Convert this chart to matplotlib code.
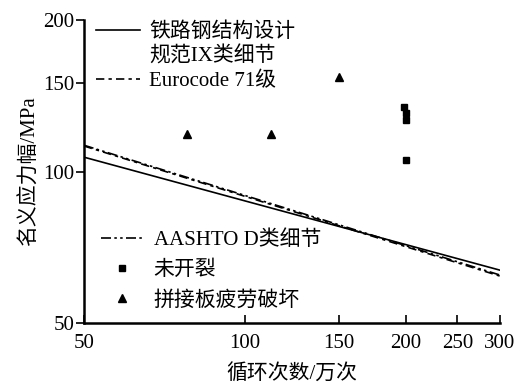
import matplotlib
matplotlib.use("Agg")
import matplotlib.pyplot as plt
from matplotlib.lines import Line2D
from matplotlib.ticker import FixedLocator, FixedFormatter, NullLocator

plt.rcParams['font.family'] = ['Liberation Serif', 'Noto Sans CJK SC']
plt.rcParams['font.size'] = 15

# S-N design curves (end points)
N_line = [50, 300]
S_tb = [106.8, 63.7]      # 铁路钢结构设计规范 IX 类细节
S_euro = [112.4, 62.0]    # Eurocode 71 级
S_aashto = [112.8, 62.3]  # AASHTO D 类细节

# test results
N_uncracked = [198.5, 200, 200, 200]
S_uncracked = [134.3, 130.6, 126.3, 105.4]
N_failed = [78, 112, 150]
S_failed = [118.7, 118.7, 154]

xticks = [50, 100, 150, 200, 250, 300]
yticks = [50, 100, 150, 200]

fig = plt.figure(figsize=(5.21, 3.85), dpi=100)
ax = fig.add_axes([0.161, 0.161, 0.798, 0.787])

l1, = ax.plot(N_line, S_tb, color='black', lw=1.2)
l2, = ax.plot(N_line, S_euro, color='black', lw=1.2, dashes=(5, 2.5, 2, 2.5))
l3, = ax.plot(N_line, S_aashto, color='black', lw=1.2,
              dashes=(6, 2, 1.5, 2, 1.5, 2))
p1, = ax.plot(N_uncracked, S_uncracked, 's', color='black', ms=5, ls='none')
p2, = ax.plot(N_failed, S_failed, '^', color='black', ms=5.5, ls='none')

ax.set_xscale('log')
ax.set_yscale('log')
ax.set_xlim(50, 300)
ax.set_ylim(50, 200)
ax.xaxis.set_major_locator(FixedLocator(xticks))
ax.xaxis.set_major_formatter(FixedFormatter([str(t) for t in xticks]))
ax.xaxis.set_minor_locator(NullLocator())
ax.yaxis.set_major_locator(FixedLocator(yticks))
ax.yaxis.set_major_formatter(FixedFormatter([str(t) for t in yticks]))
ax.yaxis.set_minor_locator(NullLocator())

ax.tick_params(axis='x', direction='in', length=6, width=1.2, pad=8)
ax.tick_params(axis='y', direction='out', length=6, width=1.2, pad=1)
for s in ['top', 'right']:
    ax.spines[s].set_visible(False)
for s in ['left', 'bottom']:
    ax.spines[s].set_linewidth(1.8)

ax.set_xlabel('循环次数/万次', labelpad=8)
ax.set_ylabel('名义应力幅/MPa', labelpad=2)

blank = Line2D([], [], color='none')
leg1 = ax.legend([l1, blank, l2], ['铁路钢结构设计', '规范IX类细节', 'Eurocode 71级'],
                 loc='upper left', bbox_to_anchor=(0.01, 1.02), frameon=False,
                 handlelength=2.1, handletextpad=0.45, labelspacing=0.22,
                 borderaxespad=0.2, borderpad=0.2)
ax.add_artist(leg1)
ax.legend([l3, p1, p2], ['AASHTO D类细节', '未开裂', '拼接板疲劳破坏'],
          loc='lower left', bbox_to_anchor=(0.01, 0.0), frameon=False,
          handlelength=2.1, handletextpad=0.45, labelspacing=0.5,
          borderaxespad=0.3, borderpad=0.3)

fig.savefig('out.png', dpi=100)
